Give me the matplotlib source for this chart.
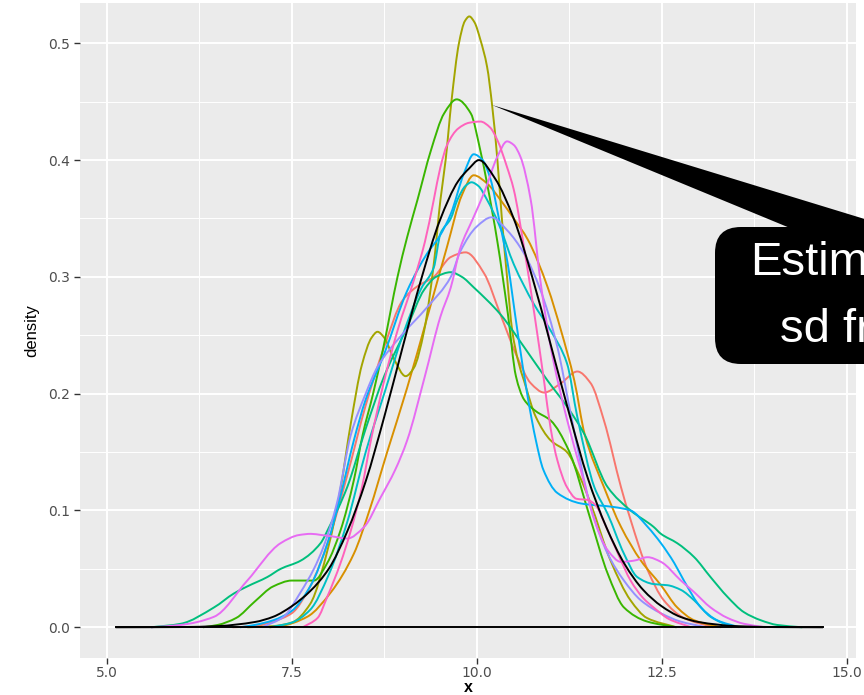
import matplotlib
matplotlib.use("Agg")
import matplotlib.pyplot as plt
from matplotlib.patches import Polygon, FancyBboxPatch, PathPatch
from matplotlib.path import Path
from matplotlib.ticker import MultipleLocator, FixedLocator
from matplotlib import font_manager

# ---------------- data ----------------
series_names = ["s1", "s2", "s3", "s4", "s5", "s6", "s7", "s8", "s9", "s10"]
series_colors = ["#F8766D", "#D89000", "#A3A500", "#39B600", "#00BF7D",
                 "#00BFC4", "#00B0F6", "#9590FF", "#E76BF3", "#FF62BC"]

s1_x = [6.7, 7.0, 7.25, 7.5, 7.75, 8.0, 8.25, 8.5, 8.75, 9.0, 9.2, 9.42, 9.65, 9.85, 10.1, 10.32,
        10.55, 10.73, 10.91, 11.14, 11.36, 11.54, 11.72, 11.95, 12.08, 12.31, 12.53, 12.8, 13.2]
s1_y = [0, 0.001, 0.005, 0.012, 0.035, 0.075, 0.13, 0.19, 0.24, 0.28, 0.292, 0.30, 0.317, 0.321,
        0.303, 0.268, 0.231, 0.209, 0.201, 0.209, 0.219, 0.209, 0.177, 0.120, 0.092, 0.049, 0.023, 0.008, 0]

s2_x = [7.2, 7.35, 7.71, 8.03, 8.34, 8.55, 8.79, 9.06, 9.33, 9.6, 9.8, 9.96, 10.14, 10.32, 10.5,
        10.69, 10.96, 11.14, 11.32, 11.46, 11.72, 11.95, 12.22, 12.49, 12.71, 12.94, 13.3]
s2_y = [0, 0.001, 0.009, 0.03, 0.063, 0.10, 0.15, 0.205, 0.265, 0.326, 0.37, 0.387, 0.38, 0.366, 0.35,
        0.332, 0.291, 0.254, 0.211, 0.165, 0.12, 0.086, 0.057, 0.036, 0.017, 0.006, 0]

s3_x = [6.9, 7.25, 7.5, 7.75, 8.0, 8.15, 8.3, 8.45, 8.58, 8.66, 8.75, 8.88, 9.04, 9.15, 9.29, 9.42,
        9.51, 9.58, 9.66, 9.76, 9.84, 9.9, 9.97, 10.05, 10.14, 10.21, 10.28, 10.34, 10.41, 10.48,
        10.56, 10.64, 10.8, 11.0, 11.22, 11.4, 11.54, 11.81, 12.08, 12.3, 12.7]
s3_y = [0, 0.001, 0.004, 0.02, 0.07, 0.115, 0.175, 0.225, 0.248, 0.253, 0.248, 0.23, 0.215, 0.222,
        0.254, 0.311, 0.366, 0.40, 0.451, 0.50, 0.519, 0.523, 0.518, 0.503, 0.48, 0.446, 0.40, 0.35,
        0.30, 0.254, 0.228, 0.211, 0.18, 0.160, 0.150, 0.128, 0.106, 0.057, 0.023, 0.008, 0]

s4_x = [6.3, 6.5, 6.75, 7.0, 7.25, 7.5, 7.6, 7.8, 7.98, 8.16, 8.34, 8.46, 8.6, 8.74, 8.93, 9.06,
        9.2, 9.38, 9.56, 9.73, 9.92, 10.05, 10.14, 10.28, 10.42, 10.53, 10.64, 10.8, 11.0, 11.24,
        11.54, 11.77, 11.99, 12.3, 12.7]
s4_y = [0, 0.002, 0.008, 0.022, 0.035, 0.040, 0.040, 0.040, 0.055, 0.083, 0.126, 0.165, 0.20, 0.240,
        0.30, 0.334, 0.366, 0.408, 0.44, 0.452, 0.44, 0.408, 0.38, 0.33, 0.269, 0.215, 0.195, 0.185,
        0.177, 0.152, 0.092, 0.046, 0.017, 0.005, 0]

s5_x = [5.6, 6.0, 6.45, 6.72, 6.9, 7.17, 7.35, 7.62, 7.89, 8.0, 8.25, 8.5, 8.75, 9.06, 9.29, 9.45,
        9.65, 9.8, 9.96, 10.32, 10.64, 10.96, 11.22, 11.45, 11.77, 12.08, 12.39, 12.49, 12.71, 12.94,
        13.16, 13.39, 13.61, 13.84, 14.06, 14.4]
s5_y = [0, 0.003, 0.017, 0.029, 0.035, 0.043, 0.05, 0.057, 0.072, 0.085, 0.12, 0.17, 0.215, 0.257,
        0.289, 0.30, 0.304, 0.30, 0.291, 0.268, 0.240, 0.211, 0.189, 0.166, 0.12, 0.100, 0.086, 0.080,
        0.072, 0.060, 0.043, 0.026, 0.013, 0.006, 0.002, 0]

s6_x = [7.2, 7.5, 7.75, 8.0, 8.25, 8.5, 8.75, 9.0, 9.25, 9.42, 9.51, 9.65, 9.74, 9.85, 9.93, 10.02,
        10.14, 10.3, 10.5, 10.77, 11.0, 11.22, 11.36, 11.59, 11.77, 11.99, 12.17, 12.39, 12.58,
        12.76, 12.94, 13.16, 13.45]
s6_y = [0, 0.004, 0.015, 0.045, 0.09, 0.15, 0.2, 0.25, 0.29, 0.308, 0.337, 0.35, 0.366, 0.378, 0.381,
        0.378, 0.366, 0.345, 0.311, 0.277, 0.254, 0.226, 0.18, 0.12, 0.097, 0.063, 0.043, 0.037,
        0.036, 0.032, 0.023, 0.009, 0]

s7_x = [6.8, 7.0, 7.25, 7.5, 7.75, 8.0, 8.15, 8.34, 8.5, 8.75, 9.06, 9.33, 9.5, 9.65, 9.83, 9.96,
        10.08, 10.19, 10.3, 10.42, 10.55, 10.69, 10.8, 10.9, 11.09, 11.41, 11.85, 12.08, 12.31, 12.49,
        12.67, 12.8, 13.03, 13.25, 13.55]
s7_y = [0, 0.002, 0.006, 0.014, 0.035, 0.075, 0.11, 0.16, 0.195, 0.234, 0.288, 0.32, 0.335, 0.354,
        0.389, 0.405, 0.40, 0.383, 0.35, 0.311, 0.254, 0.197, 0.16, 0.135, 0.115, 0.106, 0.103, 0.100,
        0.086, 0.072, 0.055, 0.040, 0.017, 0.006, 0]

s8_x = [7.1, 7.39, 7.62, 7.8, 7.93, 8.11, 8.3, 8.5, 8.66, 8.97, 9.33, 9.65, 9.78, 10.0, 10.2, 10.41,
        10.64, 10.86, 11.09, 11.27, 11.54, 11.77, 11.99, 12.22, 12.49, 12.75, 13.1]
s8_y = [0, 0.009, 0.03, 0.05, 0.069, 0.106, 0.165, 0.2, 0.223, 0.249, 0.274, 0.300, 0.322, 0.343,
        0.351, 0.340, 0.320, 0.289, 0.240, 0.183, 0.103, 0.063, 0.040, 0.023, 0.012, 0.005, 0]

s9_x = [5.6, 6.0, 6.45, 6.9, 7.35, 7.6, 7.76, 7.9, 8.03, 8.25, 8.48, 8.7, 8.9, 9.06, 9.3, 9.51, 9.65,
        9.78, 9.95, 10.1, 10.28, 10.41, 10.5, 10.59, 10.73, 10.86, 11.0, 11.22, 11.41, 11.59, 11.77,
        11.95, 12.12, 12.31, 12.49, 12.76, 12.94, 13.16, 13.39, 13.61, 13.9]
s9_y = [0, 0.002, 0.009, 0.040, 0.072, 0.079, 0.080, 0.079, 0.078, 0.076, 0.086, 0.111, 0.135, 0.160,
        0.215, 0.266, 0.291, 0.325, 0.35, 0.372, 0.403, 0.416, 0.413, 0.403, 0.366, 0.297, 0.24, 0.178,
        0.134, 0.092, 0.066, 0.056, 0.057, 0.060, 0.056, 0.040, 0.030, 0.017, 0.008, 0.003, 0]

s10_x = [7.65, 7.85, 7.98, 8.16, 8.3, 8.45, 8.57, 8.75, 8.93, 9.15, 9.3, 9.42, 9.51, 9.6, 9.75, 9.9,
         10.05, 10.18, 10.28, 10.41, 10.5, 10.64, 10.78, 10.91, 11.0, 11.09, 11.22, 11.35, 11.5, 11.6,
         11.77, 11.93, 12.08, 12.25, 12.39, 12.6, 12.9]
s10_y = [0, 0.008, 0.026, 0.055, 0.083, 0.12, 0.16, 0.211, 0.254, 0.297, 0.33, 0.366, 0.394, 0.413,
         0.427, 0.432, 0.433, 0.428, 0.417, 0.394, 0.375, 0.325, 0.268, 0.211, 0.17, 0.143, 0.12, 0.11,
         0.109, 0.105, 0.083, 0.06, 0.040, 0.025, 0.017, 0.007, 0]

ref_x = [5.12, 6.0, 6.5, 7.0, 7.25, 7.5, 7.75, 8.0, 8.25, 8.5, 8.75, 9.0, 9.25, 9.5, 9.75, 9.9, 10.03,
         10.25, 10.5, 10.75, 11.0, 11.25, 11.5, 11.75, 12.0, 12.25, 12.5, 12.75, 13.0, 13.5, 14.0, 14.68]
ref_y = [0, 0.0002, 0.001, 0.0045, 0.009, 0.018, 0.031, 0.050, 0.082, 0.125, 0.180, 0.240, 0.298,
         0.348, 0.382, 0.393, 0.400, 0.384, 0.350, 0.300, 0.242, 0.183, 0.128, 0.086, 0.054, 0.032,
         0.018, 0.009, 0.0045, 0.001, 0.0002, 0]

series_x = [s1_x, s2_x, s3_x, s4_x, s5_x, s6_x, s7_x, s8_x, s9_x, s10_x]
series_y = [s1_y, s2_y, s3_y, s4_y, s5_y, s6_y, s7_y, s8_y, s9_y, s10_y]

x_ticks = [5.0, 7.5, 10.0, 12.5, 15.0]
x_tick_labels = ["5.0", "7.5", "10.0", "12.5", "15.0"]
y_ticks = [0.0, 0.1, 0.2, 0.3, 0.4, 0.5]
y_tick_labels = ["0.0", "0.1", "0.2", "0.3", "0.4", "0.5"]
annotation_line1 = "Estimated"
annotation_line2 = "sd from"


# ---------------- helpers ----------------
def smooth_path(xs, ys):
    """Path through the given points, drawn as monotone cubic Bezier segments."""
    n = len(xs)
    h = [xs[i + 1] - xs[i] for i in range(n - 1)]
    d = [(ys[i + 1] - ys[i]) / h[i] for i in range(n - 1)]
    m = [0.0] * n
    m[0], m[-1] = d[0], d[-1]
    for i in range(1, n - 1):
        if d[i - 1] * d[i] <= 0:
            m[i] = 0.0
        else:
            w1 = 2 * h[i] + h[i - 1]
            w2 = h[i] + 2 * h[i - 1]
            m[i] = (w1 + w2) / (w1 / d[i - 1] + w2 / d[i])
    verts = [(xs[0], ys[0])]
    codes = [Path.MOVETO]
    for i in range(n - 1):
        verts += [(xs[i] + h[i] / 3, ys[i] + m[i] * h[i] / 3),
                  (xs[i + 1] - h[i] / 3, ys[i + 1] - m[i + 1] * h[i] / 3),
                  (xs[i + 1], ys[i + 1])]
        codes += [Path.CURVE4] * 3
    return Path(verts, codes)


# ---------------- styling ----------------
W, H = 864, 695
families = ["Liberation Sans", "DejaVu Sans"]
installed = {f.name for f in font_manager.fontManager.ttflist}
narrow = ["Liberation Sans Narrow", "Liberation Sans", "DejaVu Sans"] if "Liberation Sans Narrow" in installed else families
plt.rcParams["font.family"] = families

fig = plt.figure(figsize=(W / 100, H / 100), dpi=100)
ax = fig.add_axes([80 / W, 1 - 658 / H, (856 - 80) / W, (658 - 3) / H])
ax.set_facecolor("#EBEBEB")
for sp in ax.spines.values():
    sp.set_visible(False)

ax.set_xlim(4.639, 15.126)
ax.set_ylim(-0.0263, 0.5345)

ax.xaxis.set_major_locator(FixedLocator(x_ticks))
ax.yaxis.set_major_locator(FixedLocator(y_ticks))
ax.xaxis.set_minor_locator(MultipleLocator(1.25))
ax.yaxis.set_minor_locator(MultipleLocator(0.05))
ax.set_xticklabels(x_tick_labels)
ax.set_yticklabels(y_tick_labels)
ax.grid(which="major", color="white", linewidth=1.4)
ax.grid(which="minor", color="white", linewidth=0.7)
ax.set_axisbelow(True)
ax.tick_params(which="major", length=4.3, width=1.0, color="#333333",
               labelcolor="#4D4D4D", labelsize=10, pad=3)
ax.tick_params(axis="x", which="major", pad=1.5)
ax.tick_params(which="minor", length=0)
for lab in ax.get_xticklabels() + ax.get_yticklabels():
    lab.set_family(["DejaVu Sans"])

for xs, ys, c in zip(series_x, series_y, series_colors):
    ax.add_patch(PathPatch(smooth_path(xs, ys), facecolor="none", edgecolor=c,
                           linewidth=1.4, zorder=3))

ax.add_patch(PathPatch(smooth_path(ref_x, ref_y), facecolor="none", edgecolor="black",
                       linewidth=1.4, zorder=4))
ax.plot([ref_x[0], ref_x[-1]], [0, 0], color="black", linewidth=1.4, zorder=4)

ax.set_xlabel("x", fontsize=11.5, color="black", fontweight="bold", va="baseline")
ax.xaxis.set_label_coords(0.5, (658 - 692.5) / 655)
ax.set_ylabel("density", fontsize=12, color="black", labelpad=6, family=narrow)


def fp(px, py):
    return (px / W, 1 - py / H)


wedge = Polygon([fp(492, 105), fp(790, 228), fp(894, 228)], closed=True,
                facecolor="black", edgecolor="black", linewidth=0,
                transform=fig.transFigure, zorder=10)
fig.add_artist(wedge)
bx0, by0 = fp(715, 364)
bx1, by1 = fp(1000, 227)
box = FancyBboxPatch((bx0, by0), bx1 - bx0, by1 - by0,
                     boxstyle="round,pad=0,rounding_size=0.03",
                     mutation_aspect=W / H,
                     facecolor="black", edgecolor="none",
                     transform=fig.transFigure, zorder=10)
fig.add_artist(box)
t1 = fig.text(*fp(750, 275), annotation_line1, color="white", fontsize=34,
              ha="left", va="baseline", zorder=11)
t2 = fig.text(*fp(780, 342), annotation_line2, color="white", fontsize=34,
              ha="left", va="baseline", zorder=11)

fig.savefig("out.png", dpi=100)
